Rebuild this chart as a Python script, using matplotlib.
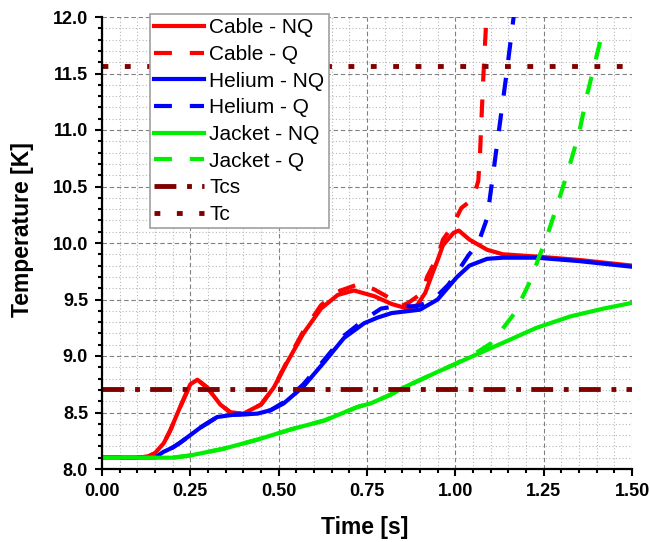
import matplotlib
matplotlib.use('Agg')
import matplotlib.pyplot as plt
from matplotlib.ticker import MultipleLocator, FormatStrFormatter

plt.rcParams['font.family'] = ['Liberation Sans', 'DejaVu Sans']

# Cable (red)
t_cable_nq = [0, 0.10, 0.13, 0.15, 0.175, 0.193, 0.22, 0.25, 0.27, 0.298, 0.335, 0.364, 0.40, 0.45,
              0.486, 0.525, 0.57, 0.62, 0.667, 0.713, 0.77, 0.82, 0.864, 0.892, 0.915, 0.935, 0.95,
              0.965, 0.995, 1.01, 1.04, 1.09, 1.135, 1.23, 1.35, 1.5]
T_cable_nq = [8.10, 8.10, 8.11, 8.14, 8.23, 8.34, 8.54, 8.75, 8.79, 8.72, 8.57, 8.50, 8.49, 8.57,
              8.72, 8.95, 9.20, 9.42, 9.54, 9.58, 9.53, 9.46, 9.42, 9.45, 9.56, 9.73, 9.85,
              9.98, 10.09, 10.11, 10.03, 9.94, 9.90, 9.88, 9.85, 9.80]
t_cable_q = [0, 0.10, 0.13, 0.15, 0.175, 0.193, 0.22, 0.25, 0.27, 0.298, 0.335, 0.364, 0.40, 0.45,
             0.486, 0.525, 0.57, 0.62, 0.667, 0.73, 0.77, 0.81, 0.845, 0.867, 0.907, 0.92, 0.95,
             0.965, 0.99, 1.017, 1.05, 1.065, 1.07, 1.074, 1.079, 1.083, 1.088]
T_cable_q = [8.10, 8.10, 8.11, 8.14, 8.23, 8.34, 8.54, 8.75, 8.79, 8.72, 8.57, 8.50, 8.49, 8.57,
             8.72, 8.96, 9.22, 9.45, 9.57, 9.64, 9.59, 9.52, 9.44, 9.47, 9.56, 9.70, 9.88,
             10.03, 10.14, 10.31, 10.39, 10.55, 10.8, 11.1, 11.45, 11.7, 12.0]

# Helium (blue)
t_helium_nq = [0, 0.15, 0.173, 0.20, 0.22, 0.25, 0.28, 0.326, 0.372, 0.44, 0.477, 0.514, 0.57,
               0.63, 0.685, 0.742, 0.78, 0.82, 0.9, 0.95, 1.005, 1.04, 1.09, 1.135, 1.23, 1.35, 1.5]
T_helium_nq = [8.10, 8.10, 8.15, 8.19, 8.23, 8.30, 8.37, 8.46, 8.48, 8.49, 8.52, 8.58, 8.73,
               8.95, 9.16, 9.29, 9.34, 9.38, 9.41, 9.50, 9.70, 9.80, 9.86, 9.87, 9.87, 9.84, 9.79]
t_helium_q = [0, 0.15, 0.173, 0.20, 0.22, 0.25, 0.28, 0.326, 0.372, 0.44, 0.477, 0.514, 0.57,
              0.63, 0.685, 0.742, 0.79, 0.835, 0.89, 0.935, 0.98, 1.005, 1.037, 1.065, 1.09, 1.10,
              1.115, 1.13, 1.145, 1.165]
T_helium_q = [8.10, 8.10, 8.15, 8.19, 8.23, 8.30, 8.37, 8.46, 8.48, 8.49, 8.52, 8.59, 8.75,
              8.97, 9.18, 9.32, 9.42, 9.44, 9.44, 9.49, 9.63, 9.74, 9.89, 10.0, 10.22, 10.45,
              10.8, 11.15, 11.5, 12.0]

# Jacket (green)
t_jacket_nq = [0, 0.2, 0.25, 0.345, 0.44, 0.534, 0.63, 0.724, 0.76, 0.818, 0.853, 0.95, 1.043,
               1.137, 1.23, 1.325, 1.42, 1.5]
T_jacket_nq = [8.10, 8.10, 8.12, 8.18, 8.26, 8.35, 8.43, 8.55, 8.58, 8.66, 8.72, 8.86, 8.99,
               9.12, 9.25, 9.35, 9.42, 9.47]
t_jacket_q = [0, 0.2, 0.25, 0.345, 0.44, 0.534, 0.63, 0.724, 0.76, 0.818, 0.853, 0.95, 1.0,
              1.065, 1.10, 1.136, 1.168, 1.193, 1.216, 1.236, 1.253, 1.287, 1.32, 1.35, 1.372,
              1.398, 1.415]
T_jacket_q = [8.10, 8.10, 8.12, 8.18, 8.26, 8.35, 8.43, 8.55, 8.58, 8.66, 8.72, 8.86, 8.93,
              9.04, 9.11, 9.25, 9.38, 9.54, 9.69, 9.87, 10.0, 10.32, 10.65, 10.97, 11.30,
              11.63, 11.85]

T_cs = 8.71
T_c = 11.57

fig = plt.figure(figsize=(6.5, 5.42), dpi=100)
ax = fig.add_axes([102/650, 1-469/542, 530/650, 452/542])

lw = 3
dash = (0, (4.3, 4.3))
ax.plot(t_cable_nq, T_cable_nq, color='#ff0000', lw=lw, label='Cable - NQ')
ax.plot(t_cable_q, T_cable_q, color='#ff0000', lw=lw, ls=dash, label='Cable - Q')
ax.plot(t_helium_nq, T_helium_nq, color='#0000ff', lw=lw, label='Helium - NQ')
ax.plot(t_helium_q, T_helium_q, color='#0000ff', lw=lw, ls=dash, label='Helium - Q')
ax.plot(t_jacket_nq, T_jacket_nq, color='#00ee00', lw=lw, label='Jacket - NQ')
ax.plot(t_jacket_q, T_jacket_q, color='#00ee00', lw=lw, ls=dash, label='Jacket - Q')
ax.axhline(T_cs, color='#800000', lw=3.5, ls=(0, (4.5, 2.2, 1.0, 2.1)), label='Tcs')
ax.axhline(T_c, color='#800000', lw=3.5, ls=(0, (1.2, 3.4)), label='Tc')

ax.set_xlim(0, 1.5)
ax.set_ylim(8.0, 12.0)
ax.xaxis.set_major_locator(MultipleLocator(0.25))
ax.xaxis.set_minor_locator(MultipleLocator(0.05))
ax.yaxis.set_major_locator(MultipleLocator(0.5))
ax.yaxis.set_minor_locator(MultipleLocator(0.1))
ax.xaxis.set_major_formatter(FormatStrFormatter('%.2f'))
ax.yaxis.set_major_formatter(FormatStrFormatter('%.1f'))

ax.set_axisbelow(True)
ax.grid(which='major', color='#808080', lw=0.8, ls=(0, (4, 2.5)))
ax.grid(which='minor', color='#b8b8b8', lw=0.8, ls=(0, (1, 2)))

for s in ['top', 'right']:
    ax.spines[s].set_visible(False)
for s in ['left', 'bottom']:
    ax.spines[s].set_linewidth(1.6)

ax.tick_params(which='major', direction='out', length=5, width=1.5, pad=5, labelsize=13)
ax.tick_params(which='minor', direction='out', length=3, width=1.5)
for lab in ax.get_xticklabels() + ax.get_yticklabels():
    lab.set_fontweight('bold')

ax.set_xlabel('Time [s]', fontsize=16.5, fontweight='bold')
ax.set_ylabel('Temperature [K]', fontsize=16.5, fontweight='bold')
ax.xaxis.set_label_coords((365-102)/530, -(516-469)/452)
ax.yaxis.set_label_coords(-(102-34)/530, (469-230)/452)

leg = ax.legend(loc='upper left', bbox_to_anchor=(150/650, 1-14/542), bbox_transform=fig.transFigure,
                borderaxespad=0, fontsize=15, frameon=True, fancybox=False, framealpha=1,
                edgecolor='#a0a0a0', handlelength=2.4, handletextpad=0.25, labelspacing=0.37,
                borderpad=0.2)
leg.get_frame().set_linewidth(1.2)

fig.savefig('out.png', dpi=100)
